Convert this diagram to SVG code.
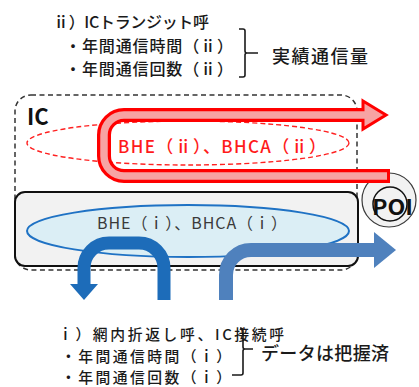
<svg xmlns="http://www.w3.org/2000/svg" width="419" height="387" viewBox="0 0 419 387">
<style>
text{font-family:"Noto Sans CJK JP","Noto Sans",sans-serif;fill:#1a1a1a}
.l{font-size:16px;font-weight:500}
.s{font-size:14.8px;font-weight:500}
.big{font-size:18px;font-weight:500}
.brace{fill:none;stroke:#1a1a1a;stroke-width:1.6}
</style>
<rect width="419" height="387" fill="#ffffff"/>
<g id="text-ii">
<text class="l" x="53" y="28" textLength="156" lengthAdjust="spacing">ⅱ）ICトランジット呼</text>
<text class="l" x="65" y="52" textLength="168" lengthAdjust="spacing">・年間通信時間（ⅱ）</text>
<text class="l" x="65" y="75" textLength="168" lengthAdjust="spacing">・年間通信回数（ⅱ）</text>
<path class="brace" d="M239 29 H243 Q245 29 245 31 V51 Q245 53 247 53 H258 M247 53 Q245 53 245 55 V75 Q245 77 243 77 H239"/>
<text class="big" x="272" y="63" textLength="96" lengthAdjust="spacing">実績通信量</text>
</g>
<g id="ic-area">
<rect x="15" y="95" width="342" height="175" rx="16" fill="#ffffff" stroke="#333" stroke-width="1.5" stroke-dasharray="5 3.5"/>
<text x="27" y="125" style="font-size:22px;font-weight:bold;fill:#111">IC</text>
</g>
<g id="transit-ellipse">
<ellipse cx="188" cy="143" rx="161" ry="22" fill="#ffffff" stroke="#ff2020" stroke-width="1.4" stroke-dasharray="5 3"/>
<text x="118" y="153" textLength="208" lengthAdjust="spacing" style="font-size:17px;fill:#ff1a1a;font-weight:500">BHE（ⅱ）、BHCA（ⅱ）</text>
</g>
<g id="poi">
<circle cx="389" cy="200" r="27" fill="#f2f2f2" stroke="#3a3a3a" stroke-width="1.2"/>
<circle cx="390" cy="204" r="17" fill="none" stroke="#111" stroke-width="1.5"/>
<text x="372" y="215" textLength="41" lengthAdjust="spacingAndGlyphs" style="font-size:21px;font-weight:bold;fill:#111">POI</text>
</g>
<g id="connectors">
<g id="red-arrow">
<path d="M390 176 H124 A20 20 0 0 1 104 156 V135 A20 20 0 0 1 124 115 H366" fill="none" stroke="#ff0000" stroke-width="14"/>
<polygon points="363,101 386,115 363,129" fill="#f7a3a3" stroke="#ff0000" stroke-width="3" stroke-linejoin="miter"/>
<path d="M387 176 H124 A20 20 0 0 1 104 156 V135 A20 20 0 0 1 124 115 H368" fill="none" stroke="#f7a3a3" stroke-width="7.5"/>
</g>
</g>
<g id="ic-node">
<rect x="15" y="192" width="343" height="74" rx="10" fill="#f2f2f2" stroke="#111" stroke-width="2"/>
<ellipse cx="188" cy="231" rx="161" ry="26" fill="#dbeef5" stroke="#1f72c4" stroke-width="2"/>
<text x="97" y="229" textLength="190" lengthAdjust="spacing" style="font-size:16px;fill:#3a3a3a">BHE（ⅰ）、BHCA（ⅰ）</text>
</g>
<g id="connectors-blue">
<path d="M164 300 V268 A25 25 0 0 0 139 243 H109 A25 25 0 0 0 84 268 V286" fill="none" stroke="#1d6cb9" stroke-width="13"/>
<polygon points="70,284 98,284 84,300" fill="#1d6cb9"/>
<path d="M226 300 V275 A25 25 0 0 1 251 250 H376" fill="none" stroke="#4f81bd" stroke-width="14"/>
<polygon points="374,232 396,250 374,268" fill="#4f81bd"/>
</g>
<g id="text-i">
<text class="s" x="58" y="340" textLength="226" lengthAdjust="spacing">ⅰ）網内折返し呼、IC接続呼</text>
<text class="s" x="61" y="361.5" textLength="170" lengthAdjust="spacing">・年間通信時間（ⅰ）</text>
<text class="s" x="61" y="382.5" textLength="170" lengthAdjust="spacing">・年間通信回数（ⅰ）</text>
<path class="brace" d="M240 328 Q243 328 243 331 V347 Q243 349 245 349 H253 M245 349 Q243 349 243 351 V373 Q243 375 241 375 H232"/>
<text class="big" x="261" y="360" textLength="128" lengthAdjust="spacing">データは把握済</text>
</g>
</svg>
